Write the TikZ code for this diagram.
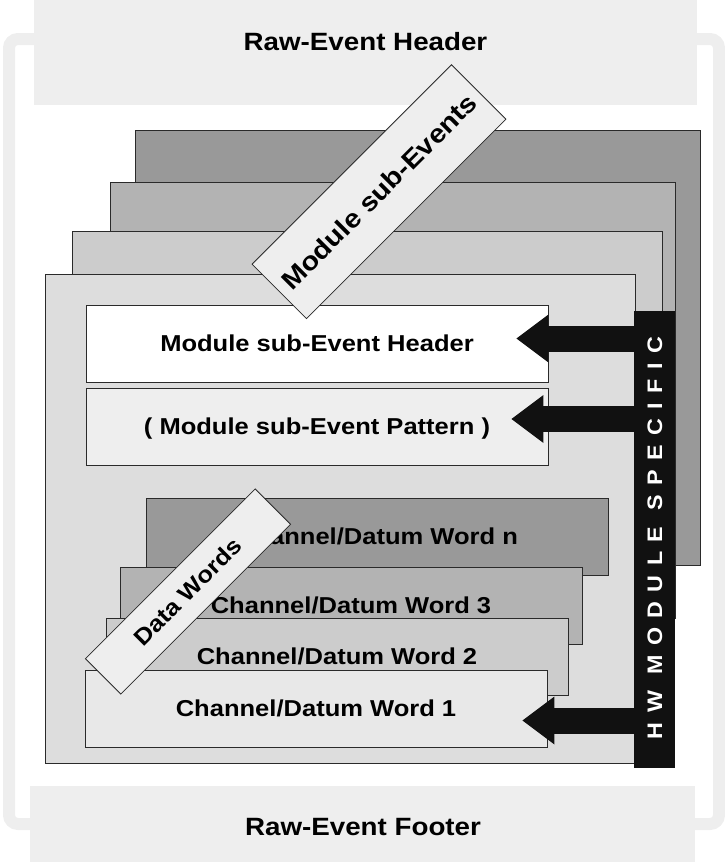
\documentclass[tikz,border=0pt]{standalone}
\usepackage{fontspec}
\setmainfont{Liberation Sans}[FakeStretch=1.11]
\newfontfamily\spacedfont{Liberation Sans}[FakeStretch=1.11,LetterSpace=45]
\usetikzlibrary{arrows.meta,calc}
\definecolor{framecol}{HTML}{EEEEEE}
\definecolor{hdrcol}{HTML}{EEEEEE}
\definecolor{edgecol}{HTML}{2A2A2A}
\definecolor{barcol}{HTML}{111111}
\definecolor{gA}{HTML}{999999}
\definecolor{gB}{HTML}{B3B3B3}
\definecolor{gC}{HTML}{CCCCCC}
\definecolor{gD}{HTML}{DDDDDD}
\definecolor{gE}{HTML}{E8E8E8}
\begin{document}
\begin{tikzpicture}[x=1pt,y=-1pt,
  layer/.style={draw=edgecol,line width=0.9pt},
  bigtext/.style={font=\fontsize{25}{30}\selectfont\bfseries,inner sep=0pt,text height=18pt,text depth=0pt},
  wbox/.style={draw=edgecol,line width=0.9pt,minimum width=462pt,minimum height=77pt,inner sep=0pt,
    font=\fontsize{23}{27}\selectfont\bfseries,text height=16.5pt,text depth=0pt},
  tag/.style={draw=edgecol,line width=0.8pt,fill=hdrcol,rotate=45,inner sep=0pt,
    font=\fontsize{#1}{#1}\selectfont\bfseries,text height=0.716*#1 pt,text depth=0pt},
  bigarrow/.style={draw=barcol,line width=26pt,-{Triangle[width=48pt,length=32pt,line width=0pt]}}
]
\useasboundingbox (0,0) rectangle (725,862);
% outer frame
\draw[framecol,line width=12pt,rounded corners=9pt] (9,39) rectangle (719,824);
% raw event header / footer
\fill[hdrcol] (34,0) rectangle (697,105);
\node[bigtext] (rawhdr) at (365.5,41) {Raw-Event Header};
\fill[hdrcol] (30,786) rectangle (695,862);
\node[bigtext] (rawftr) at (363,826) {Raw-Event Footer};
% module sub-event layers
\filldraw[layer,fill=gA] (135,130) rectangle (700,565);
\filldraw[layer,fill=gB] (110,182) rectangle (675,618);
\filldraw[layer,fill=gC] (72,231) rectangle (662,700);
\filldraw[layer,fill=gD] (45,274) rectangle (635,763);
% sub-event header and pattern
\node[wbox,fill=white] (seh) at (317,343.5) {Module sub-Event Header};
\node[wbox,fill=hdrcol] (sep) at (317,426.5) {( Module sub-Event Pattern )};
% Module sub-Events tag
\node[tag=26,minimum width=282pt,minimum height=77pt] (mse) at (379,191.7) {Module sub-Events};
% data words
\node[wbox,fill=gA] (wn) at (377,536.5) {Channel/Datum Word n};
\node[wbox,fill=gB] (w3) at (351,605.5) {Channel/Datum Word 3};
\node[wbox,fill=gC] (w2) at (337,656.5) {Channel/Datum Word 2};
\node[wbox,fill=gE] (w1) at (316,708.5) {Channel/Datum Word 1};
\node[tag=23,minimum width=240pt,minimum height=50pt] (dw) at (188,591.5) {Data Words};
% HW module specific bar
\node[fill=barcol,minimum width=41pt,minimum height=457pt,inner sep=0pt] (bar) at (654.5,539.5) {};
\node[rotate=90,text=white,inner sep=0pt,font=\spacedfont\fontsize{21}{25}\selectfont\bfseries] (bartext) at (655,538) {HW MODULE SPECIFIC};
% arrows
\coordinate (a1) at ($(seh.east)+(-32,-5)$);
\coordinate (a2) at ($(sep.east)+(-37,-7.5)$);
\coordinate (a3) at ($(w1.east)+(-25,12)$);
\draw[bigarrow] (bar.west |- a1) -- (a1);
\draw[bigarrow] (bar.west |- a2) -- (a2);
\draw[bigarrow] (bar.west |- a3) -- (a3);
\end{tikzpicture}
\end{document}
